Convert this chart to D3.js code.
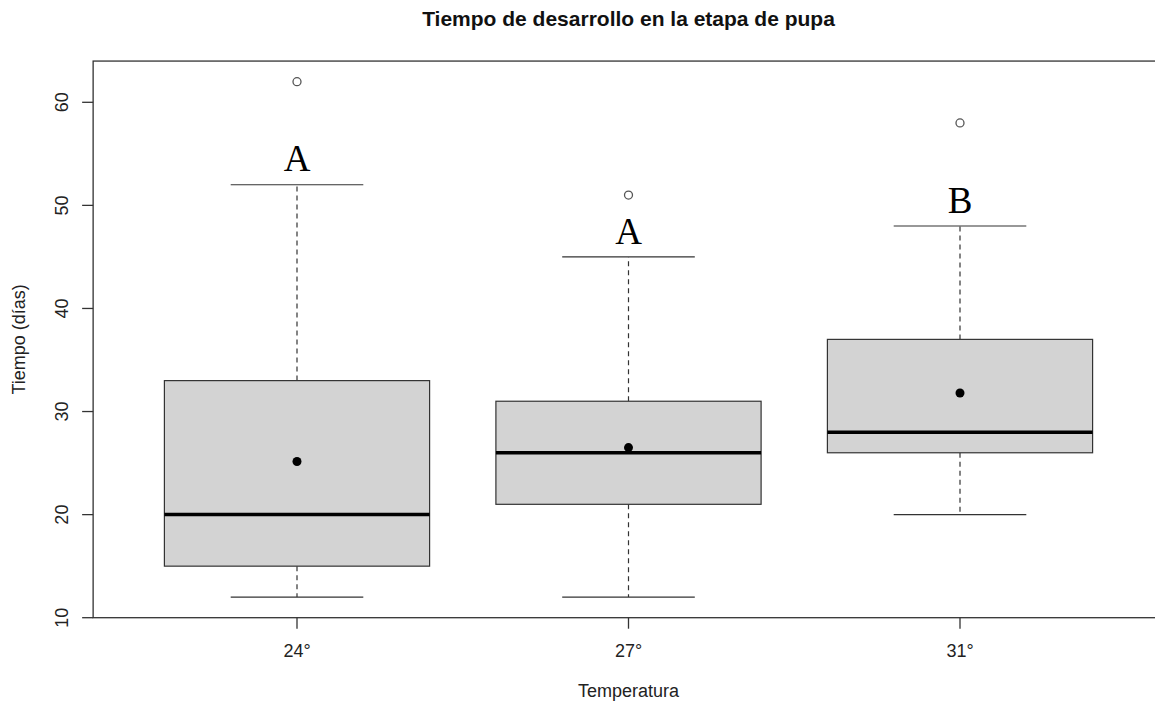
<!DOCTYPE html>
<html>
<head>
<meta charset="utf-8">
<script src="https://cdn.jsdelivr.net/npm/d3@7"></script>
<style>
  body { margin: 0; background: #fff; }
  text { font-family: "Liberation Sans", Arial, sans-serif; }
</style>
</head>
<body>
<svg id="chart" width="1155" height="704"></svg>
<script>
// data
var groups   = ["24°", "27°", "31°"];
var whiskLow = [12, 12, 20];
var q1       = [15, 21, 26];
var medians  = [20, 26, 28];
var q3       = [33, 31, 37];
var whiskHi  = [52, 45, 48];
var outliers = [62, 51, 58];
var means    = [25.15, 26.5, 31.8];
var letters  = ["A", "A", "B"];
var letterY  = [53.3, 46.3, 49.3];
var yTicks   = [10, 20, 30, 40, 50, 60];

function drawBoxplot() {
    var svg = d3.select("#chart");

    var x = d3.scaleLinear().domain([1, 3]).range([297, 960]);
    var y = d3.scaleLinear().domain([10, 60]).range([617.7, 102.3]);

    var plotLeft = x(0.385), plotRight = x(3.615), plotTop = y(64), plotBottom = y(10);
    var boxW = (x(2) - x(1)) * 0.8;
    var capW = boxW / 2;
    var axisCol = "#333";
    var fontSize = "18px";

    var data = groups.map(function (g, i) {
        return {g: g, lo: whiskLow[i], q1: q1[i], med: medians[i], q3: q3[i], hi: whiskHi[i],
                out: outliers[i], mean: means[i], letter: letters[i], ly: letterY[i], pos: i + 1};
    });

    // frame
    svg.append("rect")
        .attr("x", plotLeft).attr("y", plotTop)
        .attr("width", plotRight - plotLeft).attr("height", plotBottom - plotTop)
        .attr("fill", "none").attr("stroke", axisCol).attr("stroke-width", 1.3);

    var g = svg.selectAll(".box").data(data).enter().append("g").attr("class", "box");

    // whiskers (dashed)
    g.append("line")
        .attr("x1", function (d) { return x(d.pos); }).attr("x2", function (d) { return x(d.pos); })
        .attr("y1", function (d) { return y(d.q3); }).attr("y2", function (d) { return y(d.hi); })
        .attr("stroke", axisCol).attr("stroke-width", 1.2).attr("stroke-dasharray", "5,4");
    g.append("line")
        .attr("x1", function (d) { return x(d.pos); }).attr("x2", function (d) { return x(d.pos); })
        .attr("y1", function (d) { return y(d.q1); }).attr("y2", function (d) { return y(d.lo); })
        .attr("stroke", axisCol).attr("stroke-width", 1.2).attr("stroke-dasharray", "5,4");

    // caps
    ["hi", "lo"].forEach(function (k) {
        g.append("line")
            .attr("x1", function (d) { return x(d.pos) - capW / 2; })
            .attr("x2", function (d) { return x(d.pos) + capW / 2; })
            .attr("y1", function (d) { return y(d[k]); })
            .attr("y2", function (d) { return y(d[k]); })
            .attr("stroke", axisCol).attr("stroke-width", 1.2);
    });

    // boxes
    g.append("rect")
        .attr("x", function (d) { return x(d.pos) - boxW / 2; })
        .attr("y", function (d) { return y(d.q3); })
        .attr("width", boxW)
        .attr("height", function (d) { return y(d.q1) - y(d.q3); })
        .attr("fill", "#d3d3d3").attr("stroke", axisCol).attr("stroke-width", 1.2);

    // medians
    g.append("line")
        .attr("x1", function (d) { return x(d.pos) - boxW / 2; })
        .attr("x2", function (d) { return x(d.pos) + boxW / 2; })
        .attr("y1", function (d) { return y(d.med); })
        .attr("y2", function (d) { return y(d.med); })
        .attr("stroke", "#000").attr("stroke-width", 3.5);

    // outliers
    g.append("circle")
        .attr("cx", function (d) { return x(d.pos); })
        .attr("cy", function (d) { return y(d.out); })
        .attr("r", 4).attr("fill", "none").attr("stroke", "#555").attr("stroke-width", 1.3);

    // means
    g.append("circle")
        .attr("cx", function (d) { return x(d.pos); })
        .attr("cy", function (d) { return y(d.mean); })
        .attr("r", 4.5).attr("fill", "#000");

    // letters
    g.append("text")
        .attr("x", function (d) { return x(d.pos); })
        .attr("y", function (d) { return y(d.ly); })
        .attr("text-anchor", "middle")
        .style("font-family", "'Liberation Serif', 'DejaVu Serif', serif")
        .style("font-size", "37px")
        .text(function (d) { return d.letter; });

    // y axis
    var yAxis = svg.append("g");
    yAxis.selectAll("line").data(yTicks).enter().append("line")
        .attr("x1", plotLeft - 11).attr("x2", plotLeft)
        .attr("y1", function (d) { return y(d); }).attr("y2", function (d) { return y(d); })
        .attr("stroke", axisCol).attr("stroke-width", 1.3);
    yAxis.selectAll("text").data(yTicks).enter().append("text")
        .attr("transform", function (d) { return "translate(68," + y(d) + ") rotate(-90)"; })
        .attr("text-anchor", "middle")
        .style("font-size", fontSize).attr("fill", "#222")
        .text(function (d) { return d; });

    // x axis
    var xAxis = svg.append("g");
    xAxis.selectAll("line").data(data).enter().append("line")
        .attr("x1", function (d) { return x(d.pos); }).attr("x2", function (d) { return x(d.pos); })
        .attr("y1", plotBottom).attr("y2", plotBottom + 11)
        .attr("stroke", axisCol).attr("stroke-width", 1.3);
    xAxis.selectAll("text").data(data).enter().append("text")
        .attr("x", function (d) { return x(d.pos); })
        .attr("y", 657)
        .attr("text-anchor", "middle")
        .style("font-size", fontSize).attr("fill", "#222")
        .text(function (d) { return d.g; });

    // titles
    svg.append("text")
        .attr("x", (plotLeft + plotRight) / 2).attr("y", 26)
        .attr("text-anchor", "middle")
        .style("font-size", "21px").style("font-weight", "bold").attr("fill", "#111")
        .text("Tiempo de desarrollo en la etapa de pupa");

    svg.append("text")
        .attr("x", (plotLeft + plotRight) / 2).attr("y", 697)
        .attr("text-anchor", "middle")
        .style("font-size", fontSize).attr("fill", "#222")
        .text("Temperatura");

    svg.append("text")
        .attr("transform", "translate(25," + (plotTop + plotBottom) / 2 + ") rotate(-90)")
        .attr("text-anchor", "middle")
        .style("font-size", fontSize).attr("fill", "#222")
        .text("Tiempo (días)");
}

drawBoxplot();
</script>
</body>
</html>
